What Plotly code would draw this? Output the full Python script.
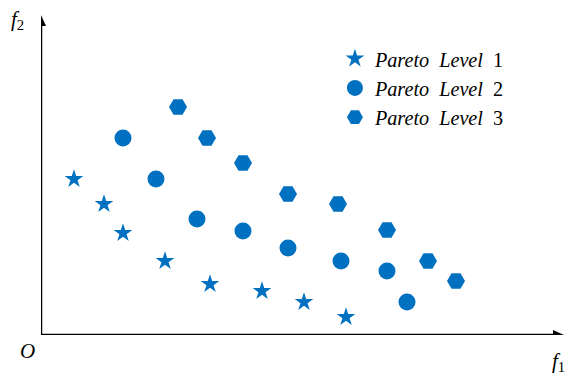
import plotly.graph_objects as go

# Objective-space samples for each Pareto front (f1, f2)
level1_f1 = [3.3, 6.3, 8.2, 12.4, 16.9, 22.1, 26.3, 30.5]
level1_f2 = [15.6, 13.1, 10.2, 7.4, 5.1, 4.4, 3.3, 1.8]

level2_f1 = [8.2, 11.5, 15.6, 20.2, 24.7, 30.0, 34.6, 36.6]
level2_f2 = [19.7, 15.6, 11.6, 10.4, 8.7, 7.4, 6.4, 3.3]

level3_f1 = [13.7, 16.6, 20.2, 24.7, 29.7, 34.6, 38.7, 41.5]
level3_f2 = [22.8, 19.7, 17.2, 14.1, 13.1, 10.5, 7.4, 5.4]

level_names = ["<i>Pareto\u00a0\u00a0Level</i>\u00a0\u00a01",
               "<i>Pareto\u00a0\u00a0Level</i>\u00a0\u00a02",
               "<i>Pareto\u00a0\u00a0Level</i>\u00a0\u00a03"]

BLUE = "#0070C0"
SERIF = "Liberation Serif, Times New Roman, serif"
X_MAX, Y_MAX = 52.3, 32.0
# one pixel in data units (plot area is 523 x 320 px)
PX = 0.1

fig = go.Figure()
series = [
    (level1_f1, level1_f2, "star", 14),
    (level2_f1, level2_f2, "circle", 17),
    (level3_f1, level3_f2, "hexagon2", 18),
]
for i, (xs, ys, sym, size) in enumerate(series):
    fig.add_trace(go.Scatter(
        x=xs, y=ys, mode="markers", name=level_names[i],
        marker=dict(symbol=sym, size=size, color=BLUE, line=dict(width=0)),
        cliponaxis=False,
    ))

# Axis lines with filled arrowheads
axis_line = dict(color="black", width=2.5)
head_len, head_half = 11 * PX, 5 * PX
fig.add_shape(type="line", x0=0, y0=0, x1=X_MAX - head_len, y1=0, line=axis_line)
fig.add_shape(type="line", x0=0, y0=-1.2 * PX, x1=0, y1=Y_MAX - head_len, line=axis_line)
fig.add_shape(type="path",
              path=f"M{X_MAX - head_len},{-head_half} L{X_MAX},0 L{X_MAX - head_len},{head_half} Z",
              fillcolor="black", line=dict(width=0))
fig.add_shape(type="path",
              path=f"M{-head_half},{Y_MAX - head_len} L0,{Y_MAX} L{head_half},{Y_MAX - head_len} Z",
              fillcolor="black", line=dict(width=0))

label_font = dict(family=SERIF, size=21, color="black")
def px_to_paper(px, py):
    return (px - 41) / 523, (335 - py) / 320

for text, (px, py) in [("<i>f</i><sub>2</sub>", (17, 20)),
                       ("<i>f</i><sub>1</sub>", (558, 362)),
                       ("<i>O</i>", (27, 351))]:
    xp, yp = px_to_paper(px, py)
    fig.add_annotation(x=xp, y=yp, xref="paper", yref="paper", text=text,
                       xanchor="center", yanchor="middle",
                       showarrow=False, font=label_font)

fig.update_xaxes(range=[0, X_MAX], visible=False)
fig.update_yaxes(range=[0, Y_MAX], visible=False)
fig.update_layout(
    width=573, height=378,
    margin=dict(l=41, r=9, t=15, b=43),
    plot_bgcolor="white", paper_bgcolor="white",
    showlegend=True,
    legend=dict(x=0.562, y=0.925, xanchor="left", yanchor="top",
                bgcolor="rgba(0,0,0,0)", borderwidth=0,
                font=dict(family=SERIF, size=20.2, color="black"),
                itemsizing="trace"),
)
fig.write_html("out.html")
